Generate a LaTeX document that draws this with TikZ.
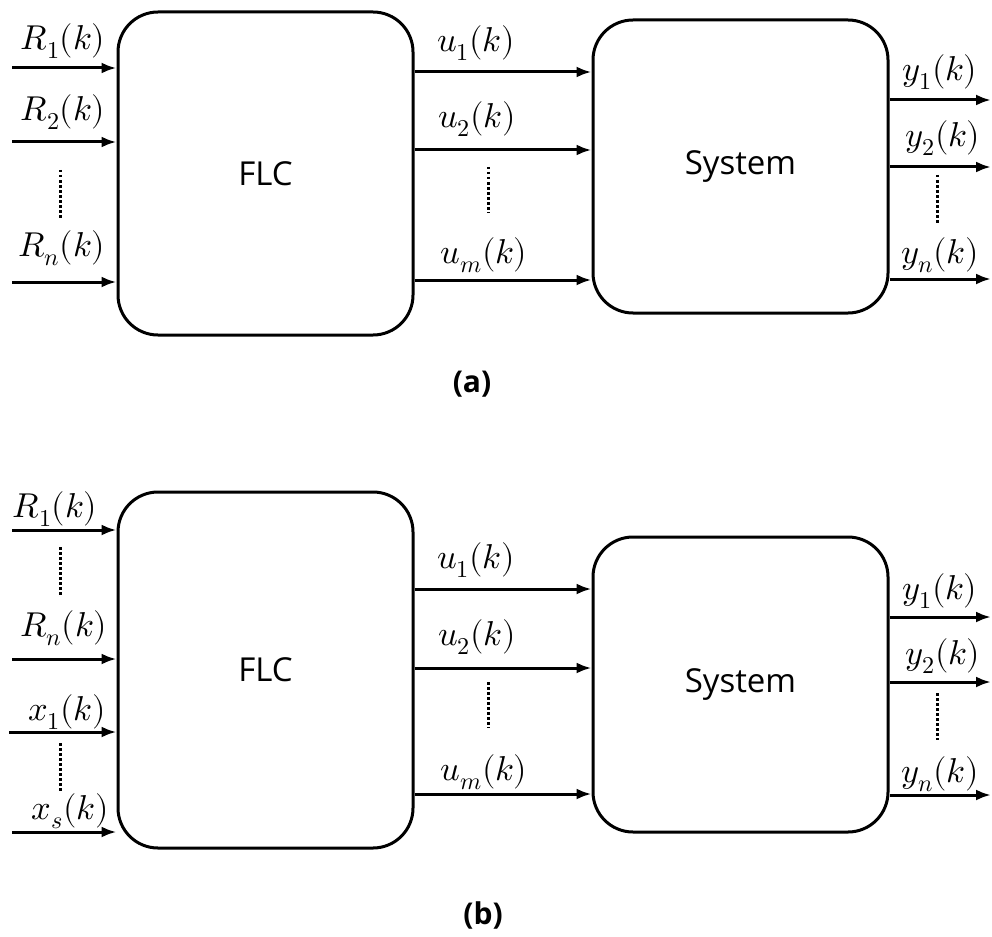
\documentclass[tikz,border=0pt]{standalone}
\usepackage{fontspec}
\usepackage{unicode-math}
\setmainfont{Open Sans}
\setmathfont{Latin Modern Math}
\usetikzlibrary{arrows.meta}
\begin{document}
\begin{tikzpicture}[x=1pt,y=-1pt,
  blk/.style={draw,line width=3pt,rounded corners=40pt,inner sep=0pt,minimum width=295pt,font=\fontsize{33}{39}\selectfont},
  arr/.style={line width=3pt,-{Latex[length=15pt,width=11pt]}},
  dots/.style={line width=3pt,dash pattern=on 2.5pt off 2.5pt},
  lbl/.style={inner sep=0pt,font=\fontsize{34.5}{40}\selectfont},
  capt/.style={inner sep=0pt,font=\fontsize{30}{36}\selectfont\bfseries}]
\useasboundingbox (0,0) rectangle (992,936);

% ---------- (a) ----------
\node[blk,minimum height=323pt] (flcA) at (265.5,173.5) {FLC};
\node[blk,minimum height=293pt] (sysA) at (740.5,166.5) {System};

\coordinate (ia1) at (12,68);
\coordinate (ia2) at (12,142);
\coordinate (ia3) at (12,282);
\draw[arr] (ia1) -- (ia1 -| flcA.west);
\draw[arr] (ia2) -- (ia2 -| flcA.west);
\draw[arr] (ia3) -- (ia3 -| flcA.west);
\node[lbl] (lRa1) at (63,41) {$R_1(k)$};
\node[lbl] (lRa2) at (63,112) {$R_2(k)$};
\node[lbl] (lRa3) at (62,248) {$R_n(k)$};
\coordinate (dia1) at (60,170);
\coordinate (dia2) at (60,218);
\draw[dots] (dia1) -- (dia2);

\coordinate (ua1) at (flcA.east |- 0,72);
\coordinate (ua2) at (flcA.east |- 0,150);
\coordinate (ua3) at (flcA.east |- 0,280);
\draw[arr] (ua1) -- (ua1 -| sysA.west);
\draw[arr] (ua2) -- (ua2 -| sysA.west);
\draw[arr] (ua3) -- (ua3 -| sysA.west);
\node[lbl] (lua1) at (476,43) {$u_1(k)$};
\node[lbl] (lua2) at (477,119) {$u_2(k)$};
\node[lbl] (lua3) at (484,255) {$u_m(k)$};
\coordinate (dua1) at (488,167);
\coordinate (dua2) at (488,213);
\draw[dots] (dua1) -- (dua2);

\coordinate (ya1) at (sysA.east |- 0,100);
\coordinate (ya2) at (sysA.east |- 0,167);
\coordinate (ya3) at (sysA.east |- 0,279);
\coordinate (yea1) at (991,100);
\coordinate (yea2) at (991,167);
\coordinate (yea3) at (991,279);
\draw[arr] (ya1) -- (yea1);
\draw[arr] (ya2) -- (yea2);
\draw[arr] (ya3) -- (yea3);
\node[lbl] (lya1) at (940,72) {$y_1(k)$};
\node[lbl] (lya2) at (943,138) {$y_2(k)$};
\node[lbl] (lya3) at (940,255) {$y_n(k)$};
\coordinate (dya1) at (937,175);
\coordinate (dya2) at (937,223);
\draw[dots] (dya1) -- (dya2);

\node[capt] (capA) at (472,384) {(a)};

% ---------- (b) ----------
\node[blk,minimum height=356pt] (flcB) at (265.5,670) {FLC};
\node[blk,minimum height=295pt] (sysB) at (740.5,684.5) {System};

\coordinate (ib1) at (12,530);
\coordinate (ib2) at (12,659);
\coordinate (ib3) at (9,732);
\coordinate (ib4) at (12,832);
\draw[arr] (ib1) -- (ib1 -| flcB.west);
\draw[arr] (ib2) -- (ib2 -| flcB.west);
\draw[arr] (ib3) -- (ib3 -| flcB.west);
\draw[arr] (ib4) -- (ib4 -| flcB.west);
\node[lbl] (lRb1) at (55,509) {$R_1(k)$};
\node[lbl] (lRb2) at (64,628) {$R_n(k)$};
\node[lbl] (lxb1) at (67,712) {$x_1(k)$};
\node[lbl] (lxb2) at (70,811) {$x_s(k)$};
\coordinate (dib1) at (60,547);
\coordinate (dib2) at (60,595);
\draw[dots] (dib1) -- (dib2);
\coordinate (dib3) at (60,743);
\coordinate (dib4) at (60,792);
\draw[dots] (dib3) -- (dib4);

\coordinate (ub1) at (flcB.east |- 0,589);
\coordinate (ub2) at (flcB.east |- 0,668);
\coordinate (ub3) at (flcB.east |- 0,794);
\draw[arr] (ub1) -- (ub1 -| sysB.west);
\draw[arr] (ub2) -- (ub2 -| sysB.west);
\draw[arr] (ub3) -- (ub3 -| sysB.west);
\node[lbl] (lub1) at (476,560) {$u_1(k)$};
\node[lbl] (lub2) at (477,637) {$u_2(k)$};
\node[lbl] (lub3) at (484,772) {$u_m(k)$};
\coordinate (dub1) at (488,682);
\coordinate (dub2) at (488,728);
\draw[dots] (dub1) -- (dub2);

\coordinate (yb1) at (sysB.east |- 0,617);
\coordinate (yb2) at (sysB.east |- 0,682);
\coordinate (yb3) at (sysB.east |- 0,795);
\coordinate (yeb1) at (991,617);
\coordinate (yeb2) at (991,682);
\coordinate (yeb3) at (991,795);
\draw[arr] (yb1) -- (yeb1);
\draw[arr] (yb2) -- (yeb2);
\draw[arr] (yb3) -- (yeb3);
\node[lbl] (lyb1) at (940,591) {$y_1(k)$};
\node[lbl] (lyb2) at (943,656) {$y_2(k)$};
\node[lbl] (lyb3) at (940,774) {$y_n(k)$};
\coordinate (dyb1) at (937,693);
\coordinate (dyb2) at (937,740);
\draw[dots] (dyb1) -- (dyb2);

\node[capt] (capB) at (483,915) {(b)};
\end{tikzpicture}
\end{document}
